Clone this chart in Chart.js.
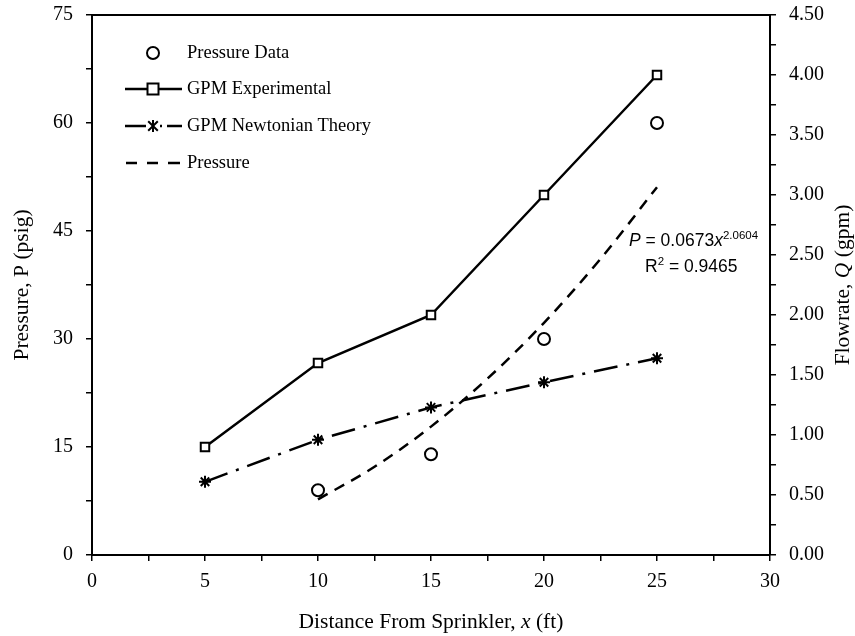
<!DOCTYPE html>
<html>
<head>
<meta charset="utf-8">
<script src="https://cdn.jsdelivr.net/npm/chart.js@4.4.1/dist/chart.umd.min.js"></script>
<style>
html,body{margin:0;padding:0;background:#fff;}
#wrap{width:855px;height:636px;position:relative;}
</style>
</head>
<body>
<div id="wrap"><canvas id="c"></canvas></div>
<script>
// ---- data ----
const distanceX = [5, 10, 15, 20, 25];
const pressureX = [10, 15, 20, 25];
const pressureData = [9, 14, 30, 60];
const gpmExperimental = [0.9, 1.6, 2.0, 3.0, 4.0];
const gpmNewtonian = [0.61, 0.96, 1.23, 1.44, 1.64];
const trendX = [10, 12.5, 15, 17.5, 20, 22.5, 25];
const trendPressure = [7.73, 12.25, 17.83, 24.50, 32.25, 41.12, 51.09];
const legendLabels = ['Pressure Data', 'GPM Experimental', 'GPM Newtonian Theory', 'Pressure'];

const pts = (xs, ys) => xs.map((x, i) => ({x: x, y: ys[i]}));
const SERIF = '"Liberation Serif", "Times New Roman", serif';
const TICK_FONT = {family: SERIF, size: 20};
const TITLE_SIZE = 21.5;
const DASH_NEWTON = [24, 9, 3, 9];
const DASH_TREND = [11, 8];

const overlay = {
  id: 'overlay',
  afterDraw(chart) {
    const ctx = chart.ctx;
    const a = chart.chartArea;
    ctx.save();
    // top border
    ctx.strokeStyle = '#000';
    ctx.lineWidth = 2;
    ctx.beginPath();
    ctx.moveTo(a.left, a.top);
    ctx.lineTo(a.right, a.top);
    ctx.stroke();

    ctx.fillStyle = '#000';
    // x title with italic x
    const xt = [['Distance From Sprinkler, ', 'normal'], ['x', 'italic'], [' (ft)', 'normal']];
    drawMixed(ctx, xt, (a.left + a.right) / 2, 622, TITLE_SIZE);
    // left title
    ctx.save();
    ctx.translate(22, (a.top + a.bottom) / 2);
    ctx.rotate(-Math.PI / 2);
    drawMixed(ctx, [['Pressure, P (psig)', 'normal']], 0, 0, TITLE_SIZE);
    ctx.restore();
    // right title
    ctx.save();
    ctx.translate(843, (a.top + a.bottom) / 2);
    ctx.rotate(-Math.PI / 2);
    drawMixed(ctx, [['Flowrate, ', 'normal'], ['Q', 'italic'], [' (gpm)', 'normal']], 0, 0, TITLE_SIZE);
    ctx.restore();

    // legend
    const lx0 = 125, lx1 = 182, mx = 153, tx = 187;
    const rows = [53, 89, 126, 163];
    ctx.font = '18.5px ' + SERIF;
    ctx.textBaseline = 'middle';
    ctx.textAlign = 'left';
    legendLabels.forEach((t, i) => ctx.fillText(t, tx, rows[i]));
    // row 0 circle
    ctx.lineWidth = 2;
    ctx.beginPath(); ctx.arc(mx, rows[0], 6, 0, Math.PI * 2); ctx.fillStyle = '#fff'; ctx.fill(); ctx.stroke();
    // row 1
    ctx.lineWidth = 2.5;
    ctx.beginPath(); ctx.moveTo(lx0, rows[1]); ctx.lineTo(lx1, rows[1]); ctx.stroke();
    ctx.lineWidth = 2;
    ctx.fillStyle = '#fff';
    ctx.fillRect(mx - 5.5, rows[1] - 5.5, 11, 11);
    ctx.strokeRect(mx - 5.5, rows[1] - 5.5, 11, 11);
    // row 2
    ctx.lineWidth = 2.5;
    ctx.beginPath(); ctx.moveTo(lx0, rows[2]); ctx.lineTo(146, rows[2]); ctx.stroke();
    ctx.beginPath(); ctx.moveTo(160, rows[2]); ctx.lineTo(162, rows[2]); ctx.stroke();
    ctx.beginPath(); ctx.moveTo(167, rows[2]); ctx.lineTo(lx1, rows[2]); ctx.stroke();
    ctx.lineWidth = 2;
    drawStar(ctx, mx, rows[2], 6);
    // row 3
    ctx.lineWidth = 2.5;
    [[126, 137], [147, 158], [168, 180]].forEach(s => {
      ctx.beginPath(); ctx.moveTo(s[0], rows[3]); ctx.lineTo(s[1], rows[3]); ctx.stroke();
    });

    // trendline equation
    ctx.fillStyle = '#000';
    ctx.textBaseline = 'alphabetic';
    const eqF = '"Liberation Sans", Arial, sans-serif';
    let x = 629, y = 246;
    const seg = (txt, font) => { ctx.font = font; ctx.fillText(txt, x, y); x += ctx.measureText(txt).width; };
    seg('P', 'italic 17.5px ' + eqF);
    seg(' = 0.0673', '17.5px ' + eqF);
    seg('x', 'italic 17.5px ' + eqF);
    y -= 7; seg('2.0604', '11.5px ' + eqF); y += 7;
    x = 645; y = 272;
    seg('R', '17.5px ' + eqF);
    y -= 7; seg('2', '11.5px ' + eqF); y += 7;
    seg(' = 0.9465', '17.5px ' + eqF);
    ctx.restore();
  }
};

function drawMixed(ctx, parts, cx, cy, size) {
  let total = 0;
  parts.forEach(p => { ctx.font = (p[1] === 'italic' ? 'italic ' : '') + size + 'px ' + SERIF; total += ctx.measureText(p[0]).width; });
  let x = cx - total / 2;
  ctx.textBaseline = 'middle';
  ctx.textAlign = 'left';
  ctx.fillStyle = '#000';
  parts.forEach(p => {
    ctx.font = (p[1] === 'italic' ? 'italic ' : '') + size + 'px ' + SERIF;
    ctx.fillText(p[0], x, cy);
    x += ctx.measureText(p[0]).width;
  });
}
function drawStar(ctx, x, y, r) {
  ctx.beginPath();
  ctx.moveTo(x, y - r); ctx.lineTo(x, y + r);
  const d = r * 0.8;
  ctx.moveTo(x - d, y - d); ctx.lineTo(x + d, y + d);
  ctx.moveTo(x - d, y + d); ctx.lineTo(x + d, y - d);
  ctx.stroke();
}

const commonGrid = {drawOnChartArea: false, drawTicks: true, tickLength: 6, color: '#000', lineWidth: 1.5};
const commonBorder = {display: true, color: '#000', width: 2};
const noPad = s => { s.paddingTop = 0; s.paddingBottom = 0; s.paddingLeft = 0; s.paddingRight = 0; };

new Chart(document.getElementById('c'), {
  type: 'scatter',
  data: {
    datasets: [
      {
        label: legendLabels[0], data: pts(pressureX, pressureData), yAxisID: 'y',
        showLine: false, pointStyle: 'circle', pointRadius: 6, borderColor: '#000', backgroundColor: '#fff', borderWidth: 2, order: 0
      },
      {
        label: legendLabels[1], data: pts(distanceX, gpmExperimental), yAxisID: 'y2',
        showLine: true, borderColor: '#000', borderWidth: 2.5, pointStyle: 'rect', pointRadius: 6,
        pointBackgroundColor: '#fff', pointBorderColor: '#000', pointBorderWidth: 2, order: 1
      },
      {
        label: legendLabels[2], data: pts(distanceX, gpmNewtonian), yAxisID: 'y2',
        showLine: true, borderColor: '#000', borderWidth: 2.5, borderDash: DASH_NEWTON, pointStyle: 'star', pointRadius: 6,
        pointBackgroundColor: '#000', pointBorderColor: '#000', pointBorderWidth: 2, order: 2
      },
      {
        label: legendLabels[3], data: pts(trendX, trendPressure), yAxisID: 'y',
        showLine: true, borderColor: '#000', borderWidth: 2.5, borderDash: DASH_TREND, pointRadius: 0,
        cubicInterpolationMode: 'monotone', order: 3
      }
    ]
  },
  options: {
    responsive: true, maintainAspectRatio: false, animation: false,
    layout: {padding: {top: 15, left: 0, right: 0, bottom: 0}},
    plugins: {legend: {display: false}, tooltip: {enabled: false}},
    scales: {
      x: {
        type: 'linear', position: 'bottom', min: 0, max: 30,
        afterFit: s => { s.height = 81; noPad(s); },
        ticks: {stepSize: 2.5, autoSkip: false, maxRotation: 0, color: '#000', font: TICK_FONT, padding: 9,
          callback: v => (v % 5 === 0 ? String(v) : '')},
        grid: commonGrid, border: commonBorder
      },
      y: {
        type: 'linear', position: 'left', min: 0, max: 75,
        afterFit: s => { s.width = 92; noPad(s); },
        ticks: {stepSize: 7.5, autoSkip: false, color: '#000', font: TICK_FONT, padding: 13,
          callback: v => (Math.round(v * 10) % 150 === 0 ? String(v) : '')},
        grid: commonGrid, border: commonBorder
      },
      y2: {
        type: 'linear', position: 'right', min: 0, max: 4.5,
        afterFit: s => { s.width = 85; noPad(s); },
        ticks: {stepSize: 0.25, autoSkip: false, color: '#000', font: TICK_FONT, padding: 13,
          callback: v => (Math.round(v * 100) % 50 === 0 ? v.toFixed(2) : '')},
        grid: commonGrid, border: commonBorder
      }
    }
  },
  plugins: [overlay]
});
</script>
</body>
</html>
